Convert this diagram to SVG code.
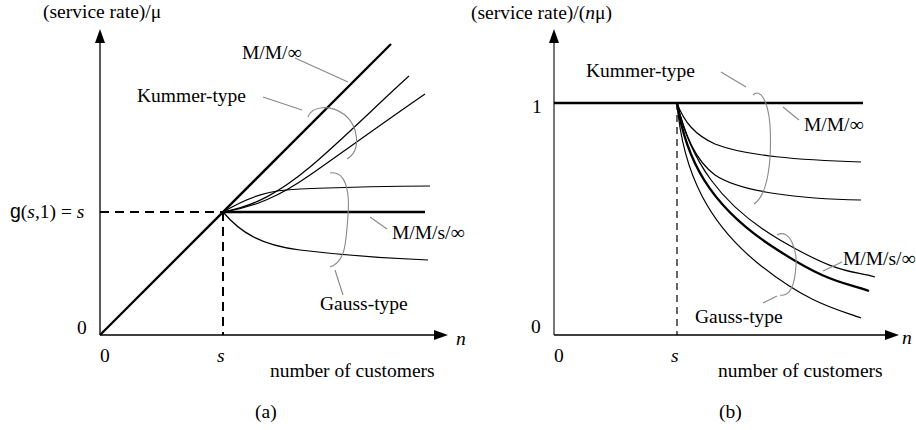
<svg xmlns="http://www.w3.org/2000/svg" width="916" height="430" viewBox="0 0 916 430">
<style>
text{font-family:"Liberation Serif","Times New Roman",serif;font-size:19.5px;fill:#000}
.it{font-style:italic}
.sans{font-family:"Liberation Sans",Arial,sans-serif}
.ax{stroke:#000;stroke-width:1.3;fill:none}
.axg{stroke:#555;stroke-width:1.6;fill:none}
.thick{stroke:#000;stroke-width:2.3;fill:none}
.thin{stroke:#000;stroke-width:1.2;fill:none}
.br{stroke:#888;stroke-width:1.1;fill:none}
.dashA{stroke:#000;stroke-width:2;stroke-dasharray:9 6;fill:none}
.dashB{stroke:#000;stroke-width:1.2;stroke-dasharray:7 5;fill:none}
.arr{fill:#000}
</style>
<rect width="916" height="430" fill="#fff"/>

<g id="panel-a">
  <g id="axes-a">
    <path class="ax" d="M100,335 V43"/>
    <polygon class="arr" points="100,29 95,43 105,43"/>
    <path class="ax" d="M100,335 H434"/>
    <polygon class="arr" points="448,335 434,330 434,340"/>
  </g>
  <g id="curves-a">
    <path class="dashA" d="M100,212 H223"/>
    <path class="dashA" d="M223,212 V335"/>
    <path class="thick" d="M100,335 L391,44"/>
    <path class="thick" d="M223,212 H425"/>
    <path class="thin" d="M223,212 C250,196 270,190 300,189 C350,187 400,186 430,186"/>
    <path class="thin" d="M223,212 C255,206 280,192 310,167 S380,102 409,76"/>
    <path class="thin" d="M223,212 C255,207 280,196 310,175 S390,118 425,94"/>
    <path class="thin" d="M223,212 C240,232 260,245 300,250 C350,256 400,259 428,260"/>
  </g>
  <g id="leaders-a">
    <path class="br" d="M295,58 L348,82"/>
    <path class="br" d="M263,97 L302,110"/>
    <path class="br" d="M308,117 C312,106 330,104 345,115 C358,126 362,150 347,159"/>
    <path class="br" d="M330,173 C345,170 350,190 348,215 C346,245 345,262 330,267"/>
    <path class="br" d="M335,270 L343,295"/>
    <path class="br" d="M370,217 L387,229"/>
  </g>
  <g id="labels-a">
    <text x="43" y="18">(service rate)/μ</text>
    <text x="242" y="59">M/M/∞</text>
    <text x="137" y="102">Kummer-type</text>
    <text x="10" y="218"><tspan class="sans">g</tspan>(<tspan class="it">s</tspan>,1) = <tspan class="it">s</tspan></text>
    <text x="392" y="239">M/M/s/∞</text>
    <text x="320" y="310">Gauss-type</text>
    <text x="77" y="334">0</text>
    <text x="100" y="362">0</text>
    <text x="217" y="362" class="it">s</text>
    <text x="456" y="345" class="it">n</text>
    <text x="270" y="377">number of customers</text>
    <text x="255" y="418">(a)</text>
  </g>
</g>

<g id="panel-b">
  <g id="axes-b">
    <path class="axg" d="M554,335 V43"/>
    <polygon class="arr" points="554,29 549,43 559,43"/>
    <path class="ax" d="M554,335 H885"/>
    <polygon class="arr" points="899,335 885,330 885,340"/>
  </g>
  <g id="curves-b">
    <path class="dashB" d="M677,103 V335"/>
    <path class="thick" d="M554,103 H863"/>
    <path class="thin" d="M677,103 C684,122 695,135 715,144 C745,156 800,160 861,162"/>
    <path class="thin" d="M677,103 C685,135 695,160 715,175 C740,192 800,199 861,200"/>
    <path class="thin" d="M677,103 C690,160 720,205 780,240 S850,270 875,277"/>
    <path class="thick" d="M677,103 C686,160 710,205 770,245 S845,282 869,291"/>
    <path class="thin" d="M677,103 C683,175 710,225 760,265 S840,310 861,318"/>
  </g>
  <g id="leaders-b">
    <path class="br" d="M721,72 L746,87"/>
    <path class="br" d="M753,95 C760,88 768,100 770,125 C772,160 768,195 754,204"/>
    <path class="br" d="M783,107 L799,120"/>
    <path class="br" d="M777,235 C790,228 797,250 796,265 C795,285 790,297 780,295"/>
    <path class="br" d="M777,296 L763,303"/>
    <path class="br" d="M823,271 L842,262"/>
  </g>
  <g id="labels-b">
    <text x="471" y="19">(service rate)/(<tspan class="it">n</tspan>μ)</text>
    <text x="586" y="77">Kummer-type</text>
    <text x="532" y="113">1</text>
    <text x="804" y="131">M/M/∞</text>
    <text x="843" y="265">M/M/s/∞</text>
    <text x="695" y="323">Gauss-type</text>
    <text x="531" y="333">0</text>
    <text x="554" y="362">0</text>
    <text x="671" y="362" class="it">s</text>
    <text x="902" y="344" class="it">n</text>
    <text x="718" y="377">number of customers</text>
    <text x="719" y="418">(b)</text>
  </g>
</g>
</svg>
